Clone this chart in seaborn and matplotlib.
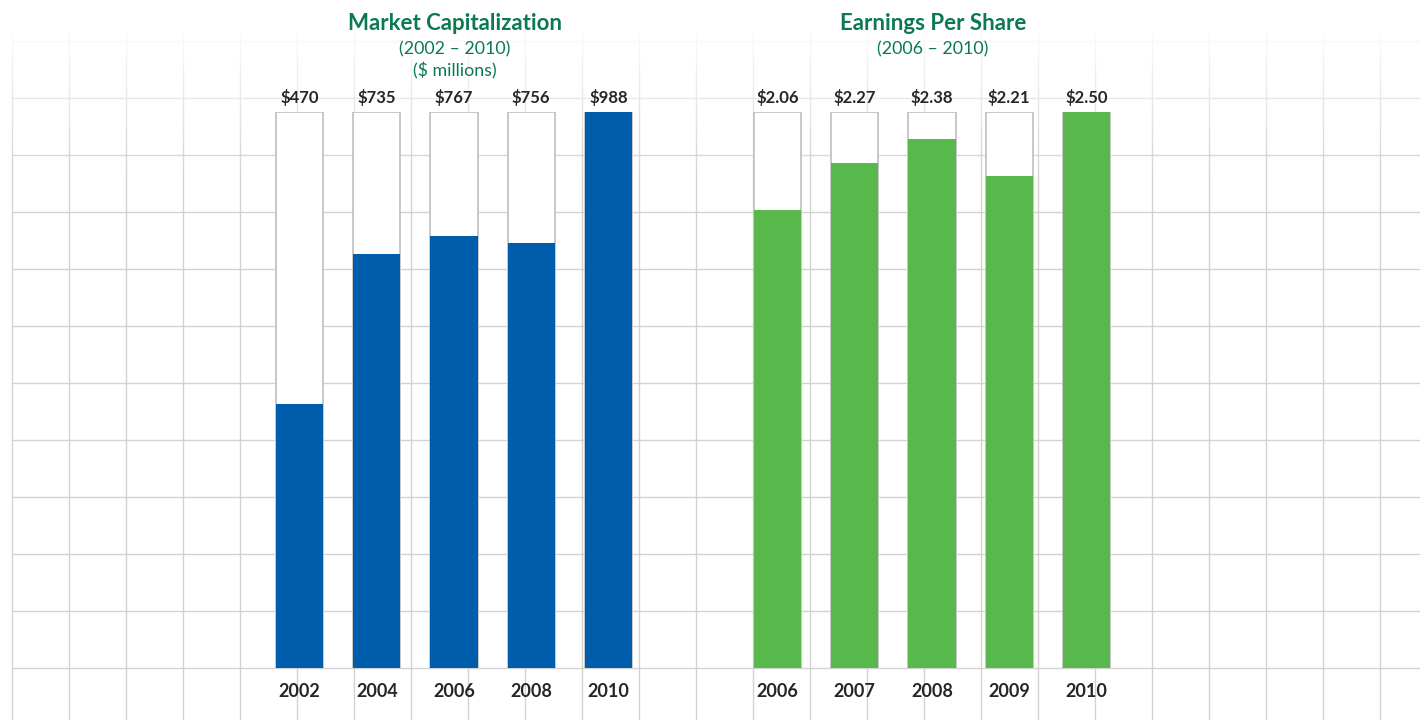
import numpy as np
import pandas as pd
import matplotlib.pyplot as plt
import seaborn as sns

# Data
cap_years = ["2002", "2004", "2006", "2008", "2010"]
cap_values = [470, 735, 767, 756, 988]
cap_labels = ["$470", "$735", "$767", "$756", "$988"]

eps_years = ["2006", "2007", "2008", "2009", "2010"]
eps_values = [2.06, 2.27, 2.38, 2.21, 2.50]
eps_labels = ["$2.06", "$2.27", "$2.38", "$2.21", "$2.50"]

sns.set_theme(style="white")
plt.rcParams["font.family"] = ["Lato", "DejaVu Sans"]

W, H = 1420, 720
fig = plt.figure(figsize=(14.2, 7.2), dpi=100)
fig.patch.set_facecolor("white")

# Background grid paper, fading out toward the top
bg = fig.add_axes([0, 0, 1, 1])
bg.set_xlim(0, W)
bg.set_ylim(H, 0)
bg.axis("off")
grid_col = "#d2d2d2"
for gx in np.arange(12, W, 57):
    bg.plot([gx, gx], [30, H], color=grid_col, lw=1, zorder=1)
for gy in np.arange(41, H, 57):
    bg.plot([12, W], [gy, gy], color=grid_col, lw=1, zorder=1)
fade = np.ones((200, 1, 4))
fade[:, 0, 3] = np.clip(1.1 - np.linspace(0, 200, 200) / 165, 0, 1)
bg.imshow(fade, extent=[0, W, 200, 0], aspect="auto", zorder=2)

title_col = "#0c7a50"
text_col = "#262626"


def bar_panel(left_px, years, values, labels, color):
    ax = fig.add_axes([left_px / W, 52 / H, 386 / W, 556 / H])
    ax.patch.set_alpha(0)
    df = pd.DataFrame({"year": years, "value": values})
    df["full"] = max(values)
    sns.barplot(data=df, x="year", y="full", color="white", saturation=1,
                width=0.61, edgecolor="#c4c4c4", linewidth=1.3, ax=ax)
    sns.barplot(data=df, x="year", y="value", color=color, saturation=1,
                width=0.61, linewidth=0, ax=ax)
    ax.set_xlim(-0.5, len(years) - 0.5)
    ax.set_ylim(0, max(values))
    for i, lab in enumerate(labels):
        ax.annotate(lab, (i, max(values)), xytext=(0, 4), textcoords="offset points",
                    ha="center", va="bottom", fontsize=12, fontweight="bold",
                    color=text_col, annotation_clip=False)
    ax.set_xlabel("")
    ax.set_ylabel("")
    ax.set_yticks([])
    ax.tick_params(axis="x", length=0, pad=11, labelsize=13, labelcolor=text_col)
    for t in ax.get_xticklabels():
        t.set_fontweight("bold")
    sns.despine(ax=ax, left=True, bottom=True)
    return ax


bar_panel(261, cap_years, cap_values, cap_labels, "#005dab")
bar_panel(739, eps_years, eps_values, eps_labels, "#58b84c")

fig.text(455 / W, 1 - 23 / H, "Market Capitalization", ha="center", va="center",
         fontsize=16, fontweight="bold", color=title_col)
fig.text(455 / W, 1 - 49 / H, "(2002 \u2013 2010)", ha="center", va="center",
         fontsize=12.8, color=title_col)
fig.text(455 / W, 1 - 71 / H, "($ millions)", ha="center", va="center",
         fontsize=12.8, color=title_col)
fig.text(933 / W, 1 - 23 / H, "Earnings Per Share", ha="center", va="center",
         fontsize=16, fontweight="bold", color=title_col)
fig.text(933 / W, 1 - 49 / H, "(2006 \u2013 2010)", ha="center", va="center",
         fontsize=12.8, color=title_col)

fig.savefig("out.png", dpi=100)
